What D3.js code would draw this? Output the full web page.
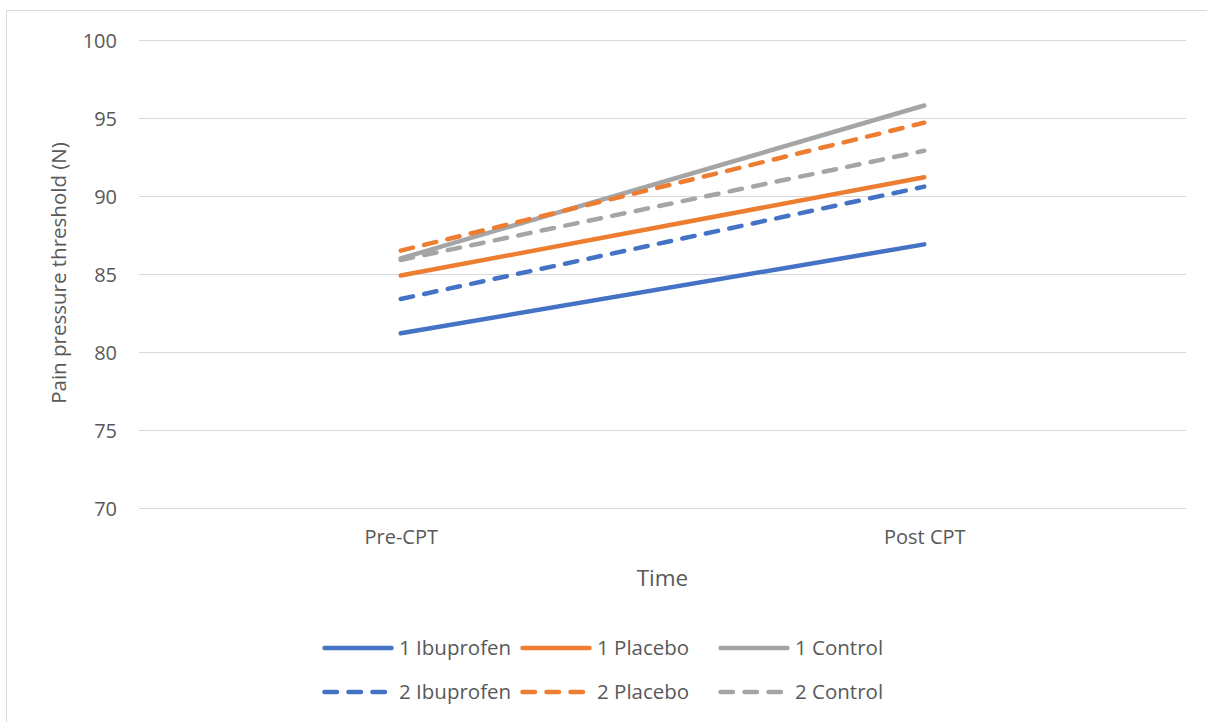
<!DOCTYPE html>
<html>
<head>
<meta charset="utf-8">
<script src="https://cdn.jsdelivr.net/npm/d3@7"></script>
<style>
  body { margin: 0; background: #fff; }
  svg { display: block; font-family: "Open Sans", sans-serif; }
</style>
</head>
<body>
<svg id="chart" width="1207" height="722"></svg>
<script>
// Time points
const categories = ["Pre-CPT", "Post CPT"];
// Series names and their values (N)
const seriesNames = ["1 Ibuprofen", "1 Placebo", "1 Control", "2 Ibuprofen", "2 Placebo", "2 Control"];
const ibuprofen1 = [81.2, 86.9];
const placebo1   = [84.9, 91.2];
const control1   = [86.0, 95.8];
const ibuprofen2 = [83.4, 90.6];
const placebo2   = [86.5, 94.7];
const control2   = [85.9, 92.9];
const yTicks = [70, 75, 80, 85, 90, 95, 100];

const seriesValues = [ibuprofen1, placebo1, control1, ibuprofen2, placebo2, control2];
const colors = ["#4472C4", "#ED7D31", "#A5A5A5", "#4472C4", "#ED7D31", "#A5A5A5"];
const dashed = [false, false, false, true, true, true];

const svg = d3.select("#chart");
const W = 1207, H = 722;
const textColor = "#595959";
const dashPattern = "12.5,11.5";

// Chart area border
svg.append("rect")
  .attr("x", 6.5).attr("y", 10.5)
  .attr("width", W + 10).attr("height", H + 10)
  .attr("fill", "none").attr("stroke", "#d9d9d9").attr("stroke-width", 1);

const plot = { left: 139, right: 1186, top: 40, bottom: 508 };

const x = d3.scalePoint().domain(categories)
  .range([plot.left, plot.right]).padding(0.5);
const y = d3.scaleLinear().domain([70, 100]).range([plot.bottom, plot.top]);

// Horizontal gridlines
svg.append("g").selectAll("line").data(yTicks).join("line")
  .attr("x1", plot.left).attr("x2", plot.right)
  .attr("y1", d => Math.round(y(d)) + 0.5).attr("y2", d => Math.round(y(d)) + 0.5)
  .attr("stroke", "#d9d9d9").attr("stroke-width", 1);

// Y axis labels
const yAxis = d3.axisLeft(y).tickValues(yTicks).tickSize(0).tickPadding(0);
const gy = svg.append("g").attr("transform", `translate(${plot.left - 22},0)`).call(yAxis);
gy.select(".domain").remove();
gy.selectAll("text")
  .attr("fill", textColor).attr("font-size", 20).attr("dy", "0.35em")
  .attr("font-family", "\"Open Sans\", sans-serif");

// X axis labels
const xAxis = d3.axisBottom(x).tickSize(0).tickPadding(0);
const gx = svg.append("g").attr("transform", `translate(0,${plot.bottom + 22})`).call(xAxis);
gx.select(".domain").remove();
gx.selectAll("text")
  .attr("fill", textColor).attr("font-size", 20).attr("dy", "0.71em")
  .attr("font-family", "\"Open Sans\", sans-serif");

// Axis titles
svg.append("text")
  .attr("transform", `translate(66,${(plot.top + plot.bottom) / 2 - 1}) rotate(-90)`)
  .attr("text-anchor", "middle").attr("fill", textColor).attr("font-size", 20.5)
  .text("Pain pressure threshold (N)");
svg.append("text")
  .attr("x", (plot.left + plot.right) / 2).attr("y", 586)
  .attr("text-anchor", "middle").attr("fill", textColor).attr("font-size", 22.5)
  .text("Time");

// Series lines
const line = d3.line().x((d, i) => x(categories[i])).y(d => y(d));
svg.append("g").selectAll("path").data(seriesValues).join("path")
  .attr("d", d => line(d))
  .attr("fill", "none")
  .attr("stroke", (d, i) => colors[i])
  .attr("stroke-width", 4.5)
  .attr("stroke-linecap", "round")
  .attr("stroke-dasharray", (d, i) => dashed[i] ? dashPattern : null);

// Legend
const legendPos = [
  [322, 648], [520, 648], [718, 648],
  [322, 692], [520, 692], [718, 692]
];
const lg = svg.append("g").selectAll("g").data(seriesNames).join("g")
  .attr("transform", (d, i) => `translate(${legendPos[i][0]},${legendPos[i][1]})`);
lg.append("line")
  .attr("x1", 2.5).attr("x2", 69.5).attr("y1", 0).attr("y2", 0)
  .attr("stroke", (d, i) => colors[i]).attr("stroke-width", 4.5)
  .attr("stroke-linecap", "round")
  .attr("stroke-dasharray", (d, i) => dashed[i] ? dashPattern : null);
lg.append("text")
  .attr("x", 77).attr("y", 0).attr("dy", "0.35em")
  .attr("fill", textColor).attr("font-size", 20.5)
  .text(d => d);
</script>
</body>
</html>
